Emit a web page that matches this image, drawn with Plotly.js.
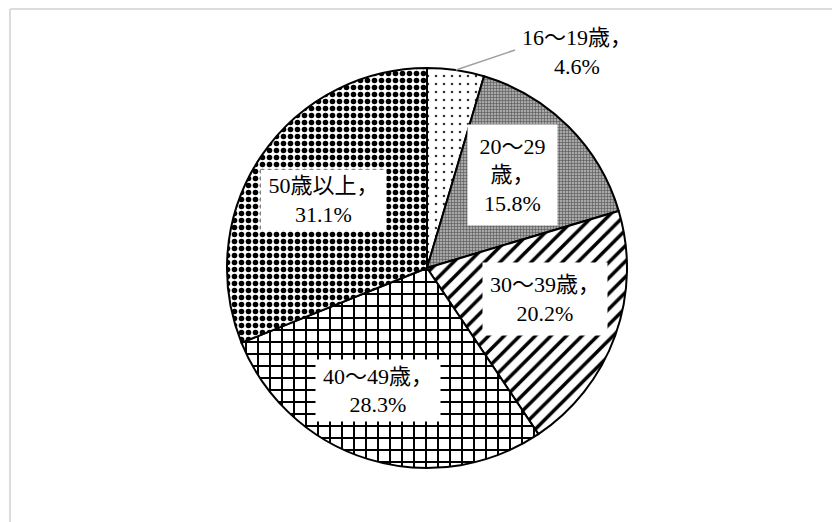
<!DOCTYPE html>
<html>
<head>
<meta charset="utf-8">
<script src="https://cdn.plot.ly/plotly-3.0.1.min.js"></script>
<style>
html,body{margin:0;padding:0;background:#fff;}
#chart{width:832px;height:522px;}
</style>
</head>
<body>
<div id="chart"></div>
<script>
// ---- data ----
const categories = ["16～19歳", "20～29歳", "30～39歳", "40～49歳", "50歳以上"];
const shares = [4.6, 15.8, 20.2, 28.3, 31.1];
const labelLines = ["16～19歳，", "20～29<br>歳，", "30～39歳，", "40～49歳，", "50歳以上，"];

// ---- layout constants ----
const W = 832, H = 522;
const CX = 427, CY = 268, R = 200;          // pie centre / radius in px
const labelRadius = [1.315, 0.63, 0.61, 0.66, 0.62];
const labelAngleNudge = [26.5, -2.5, -5, 4.5, -1];
const boxW = [null, 89, 124, 124, 125];
const boxH = [null, 100, 72, 61, 60];
const patternShapes = [".", "+", "/", "+", "."];
const patternFg = ["#333", "#555", "#000", "#000", "#000"];
const patternBg = ["#fff", "#a8a8a8", "#fff", "#fff", "#fff"];
const patternSize = [8, 3, 11, 12, 7];
const patternSolid = [0.08, 0.35, 0.32, 0.3, 0.5];
const FONT = "Liberation Serif, 'Noto Sans CJK JP', serif";
const FS = 22;

const px2x = p => p / W;
const py2y = p => 1 - p / H;

const total = shares.reduce((a, b) => a + b, 0);
let cum = 0;
const annotations = [];
const shapes = [];
shares.forEach((v, i) => {
  const mid = (cum + v / 2) / total * 360;
  cum += v;
  const text = labelLines[i] + "<br>" + v.toFixed(1) + "%";
  const la = (mid + labelAngleNudge[i]) * Math.PI / 180;
  const lx = CX + R * labelRadius[i] * Math.sin(la);
  const ly = CY - R * labelRadius[i] * Math.cos(la);
  if (i === 0) {
    // outside label with leader line
    const a = mid * Math.PI / 180;
    const ex = CX + R * Math.sin(a), ey = CY - R * Math.cos(a);
    shapes.push({type: "line", xref: "paper", yref: "paper",
      x0: px2x(ex), y0: py2y(ey), x1: px2x(lx - 62), y1: py2y(ly - 2),
      line: {color: "#a0a0a0", width: 1.5}});
    annotations.push({xref: "paper", yref: "paper", x: px2x(lx), y: py2y(ly),
      xanchor: "center", yanchor: "middle", showarrow: false, text: text,
      font: {family: FONT, size: FS, color: "#000"}});
  } else {
    annotations.push({xref: "paper", yref: "paper", x: px2x(lx), y: py2y(ly),
      xanchor: "center", yanchor: "middle", showarrow: false, text: text,
      width: boxW[i], height: boxH[i], bgcolor: "#fff", borderpad: 0,
      font: {family: FONT, size: FS, color: "#000"}});
  }
});

// frame lines
shapes.push({type: "line", xref: "paper", yref: "paper", x0: px2x(10), y0: py2y(9), x1: 1, y1: py2y(9),
  line: {color: "#dcdcdc", width: 2}});
shapes.push({type: "line", xref: "paper", yref: "paper", x0: px2x(10), y0: py2y(9), x1: px2x(10), y1: 0,
  line: {color: "#dcdcdc", width: 2}});

const trace = {
  type: "pie",
  labels: categories,
  values: shares,
  sort: false,
  direction: "clockwise",
  rotation: 0,
  textinfo: "none",
  hoverinfo: "label+percent",
  domain: {x: [px2x(CX - R), px2x(CX + R)], y: [py2y(CY + R), py2y(CY - R)]},
  marker: {
    colors: patternBg,
    line: {color: "#000", width: 2},
    pattern: {shape: patternShapes, fgcolor: patternFg, bgcolor: patternBg,
      size: patternSize, solidity: patternSolid, fillmode: "replace"}
  }
};

const layout = {
  width: W, height: H,
  margin: {l: 0, r: 0, t: 0, b: 0},
  showlegend: false,
  paper_bgcolor: "#fff",
  annotations: annotations,
  shapes: shapes
};

Plotly.newPlot("chart", [trace], layout, {displayModeBar: false, staticPlot: true});
</script>
</body>
</html>
